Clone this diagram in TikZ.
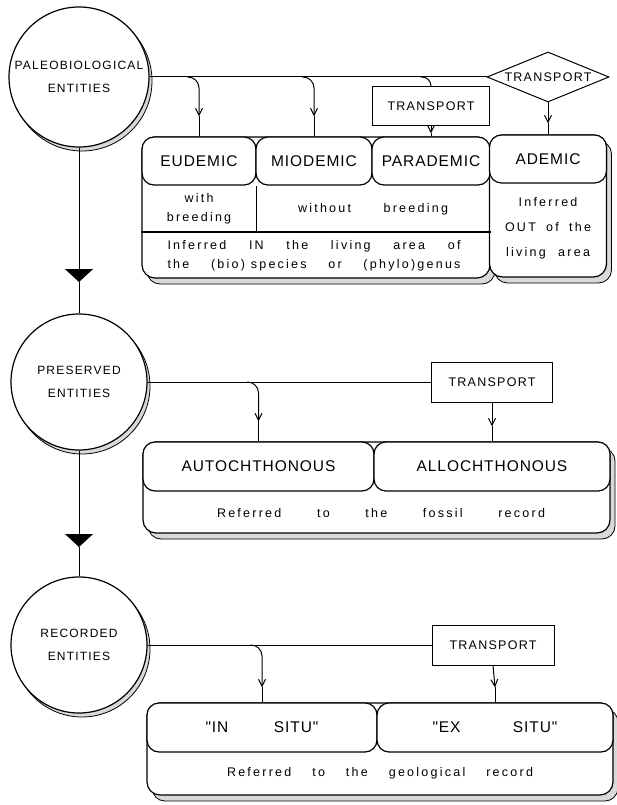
\documentclass[tikz,border=0pt]{standalone}
\usepackage{fontspec}
\setmainfont{Liberation Sans}[LetterSpace=10]
\newfontfamily\headfont{Liberation Sans}[LetterSpace=6]
\newfontfamily\lowfont{Liberation Sans}[LetterSpace=18]
\newfontfamily\quotefont{Liberation Sans}[LetterSpace=6,Ligatures=TeXOff]
\usetikzlibrary{positioning,shapes.geometric,shadows,arrows.meta}

\tikzset{
  stipple/.style={general shadow={fill=gray!30,draw=black,line width=0.8pt,shadow xshift=#1,shadow yshift=-#1-1pt}},
  entity/.style={circle,draw,line width=1.2pt,fill=white,inner sep=0pt,minimum size=136pt,align=center,font=\fontsize{12}{23}\selectfont,stipple=3pt},
  outerbox/.style={rectangle,rounded corners=13pt,draw,line width=1.2pt,fill=white,inner sep=0pt,stipple=5pt},
  headbox/.style={rectangle,rounded corners=12pt,draw,line width=1.2pt,fill=white,inner sep=0pt,minimum height=48pt,font=\headfont\fontsize{15.5}{18}\selectfont},
  trbox/.style={rectangle,draw,fill=white,minimum height=40pt,font=\fontsize{12.5}{15}\selectfont},
  notetext/.style={align=center,inner sep=0pt,font=\lowfont\fontsize{12.5}{19}\selectfont},
}

\begin{document}
\begin{tikzpicture}[x=1pt,y=-1pt,>={Straight Barb[length=7pt,width=7pt]},line width=1pt]
  \useasboundingbox (0,0) rectangle (617,805);
  % the three entities
  \node[entity,minimum size=140pt] (pal) at (79,77) {PALEOBIOLOGICAL\\ENTITIES};
  \node[entity] (pre) at (79,382) {PRESERVED\\ENTITIES};
  \node[entity] (rec) at (79,645) {RECORDED\\ENTITIES};
  \coordinate (tr1) at (79,282);
  \coordinate (tr2) at (79,547);
  \draw[-{Triangle[length=13pt,width=28pt]}] (pal.south) -- (tr1);
  \draw (tr1) -- (pre.north);
  \draw[-{Triangle[length=13pt,width=28pt]}] (pre.south) -- (tr2);
  \draw (tr2) -- (rec.north);

  % paleobiological
  \node[outerbox,minimum width=348pt,minimum height=141pt] (inarea) at (316,207.5) {};
  \node[outerbox,minimum width=117pt,minimum height=142pt] (outarea) at (548,206) {};
  \node[headbox,minimum width=114pt] (eud) at (199,161) {EUDEMIC};
  \node[headbox,minimum width=116pt] (mio) at (314,161) {MIODEMIC};
  \node[headbox,minimum width=118pt] (par) at (431,161) {PARADEMIC};
  \node[headbox,minimum width=117pt] (ade) at (548,159) {ADEMIC};
  \draw[line width=1.2pt] (eud.south east) -- (eud.south east |- 0,232);
  \draw[line width=1.2pt] (inarea.west |- 0,232) -- (inarea.east |- 0,232);
  \node[notetext] (wb) at (199,209) {with\\breeding};
  \node[notetext] (wob) at (373,209) {\makebox[150pt][s]{without breeding}};
  \node[notetext] (inf) at (314,256) {\makebox[293pt][s]{Inferred IN the living area of}\\
    \makebox[293pt][s]{the \mbox{(bio) species} or (phylo)genus}};
  \node[notetext,font=\lowfont\fontsize{12.5}{25}\selectfont] (oti) at (548,228)
    {Inferred\\\makebox[86pt][s]{OUT of the}\\\makebox[84pt][s]{living area}};
  \node[trbox,minimum width=117pt,minimum height=39pt] (tp1) at (431,106.5) {TRANSPORT};
  \node[diamond,draw,fill=white,aspect=2.44,inner sep=0pt,minimum width=122pt,minimum height=50pt,
    font=\fontsize{12.5}{15}\selectfont] (tpd) at (548,77) {TRANSPORT};
  \draw (pal.east) -- (tpd.west);
  \coordinate (b1) at (187,77);
  \coordinate (b2) at (302,77);
  \coordinate (b3) at (420,77);
  \coordinate[above=20pt of eud.north] (a1);
  \coordinate[above=20pt of mio.north] (a2);
  \coordinate[above=3pt of par.north] (a3);
  \coordinate[above=11pt of ade.north] (a4);
  \draw[->,rounded corners=11pt] (b1) -| (a1);
  \draw (a1) -- (eud.north);
  \draw[->,rounded corners=11pt] (b2) -| (a2);
  \draw (a2) -- (mio.north);
  \draw[rounded corners=9pt] (b3) -| (tp1.north);
  \draw[->] (tp1.south) -- (a3);
  \draw (a3) -- (par.north);
  \draw[->] (tpd.south) -- (a4);
  \draw (a4) -- (ade.north);

  % preserved
  \node[outerbox,minimum width=467pt,minimum height=91pt] (fos) at (376.5,487.5) {};
  \node[headbox,minimum width=231pt,minimum height=49pt] (aut) at (258.5,466.5) {AUTOCHTHONOUS};
  \node[headbox,minimum width=236pt,minimum height=49pt] (all) at (492,466.5) {ALLOCHTHONOUS};
  \node[notetext] (ftxt) at (381,513) {\makebox[328pt][s]{Referred to the fossil record}};
  \node[trbox,minimum width=121pt] (tp2) at (492,382) {TRANSPORT};
  \draw (pre.east) -- (tp2.west);
  \coordinate (b5) at (247,382);
  \coordinate[above=20pt of aut.north] (a5);
  \coordinate[above=15pt of all.north] (a6);
  \draw[->,rounded corners=11pt] (b5) -| (a5);
  \draw (a5) -- (aut.north);
  \draw[->] (tp2.south) -- (a6);
  \draw (a6) -- (all.north);

  % recorded
  \node[outerbox,minimum width=466pt,minimum height=92pt] (geo) at (380,749) {};
  \node[headbox,minimum width=230pt,minimum height=49pt,font=\quotefont\fontsize{15.5}{18}\selectfont] (ins) at (262,727.5)
    {\makebox[113pt][s]{"IN SITU"}};
  \node[headbox,minimum width=236pt,minimum height=49pt,font=\quotefont\fontsize{15.5}{18}\selectfont] (exs) at (495,727.5)
    {\makebox[125pt][s]{"EX SITU"}};
  \node[notetext] (gtxt) at (380,773) {\makebox[306pt][s]{Referred to the geological record}};
  \node[trbox,minimum width=122pt] (tp3) at (493,645) {TRANSPORT};
  \draw (rec.east) -- (tp3.west);
  \coordinate (b7) at (250,645);
  \coordinate[above=15pt of ins.north] (a7);
  \coordinate[above=15pt of exs.north] (a8);
  \draw[->,rounded corners=11pt] (b7) -| (a7);
  \draw (a7) -- (ins.north);
  \draw[->] (tp3.south) -- (a8);
  \draw (a8) -- (exs.north);
\end{tikzpicture}
\end{document}
